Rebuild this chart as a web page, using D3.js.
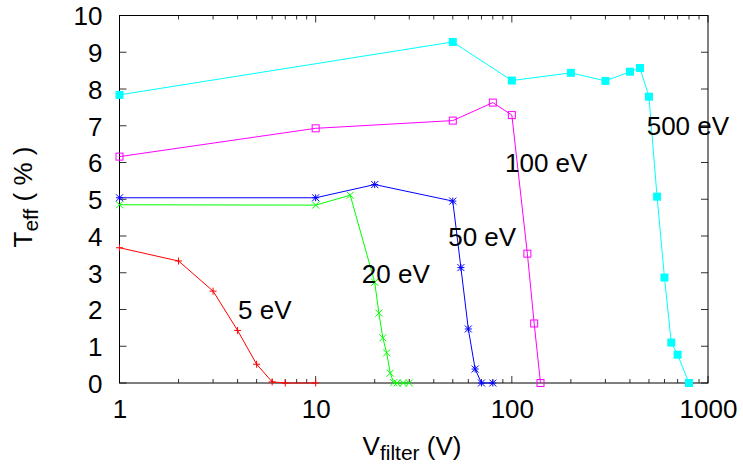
<!DOCTYPE html>
<html><head><meta charset="utf-8">
<script src="https://cdn.jsdelivr.net/npm/d3@7"></script>
<style>body{margin:0;background:#fff}svg{display:block}text{font-family:"Liberation Sans",Arial,Helvetica,sans-serif;fill:#000}</style>
</head><body><svg id="c" width="743" height="465"></svg>
<script>
// ---- data ----
const s5V   = [1,2,3,4,5,6,7,10];
const s5T   = [3.68,3.32,2.50,1.43,0.51,0.03,0.0,0.0];
const s20V  = [1,10,15,20,21,22,23,24,25,26,28,30];
const s20T  = [4.85,4.84,5.11,2.74,1.90,1.23,0.82,0.27,0.01,0,0,0];
const s50V  = [1,10,20,50,55,60,65,70,80];
const s50T  = [5.04,5.04,5.40,4.95,3.14,1.47,0.38,0,0];
const s100V = [1,10,50,80,100,120,130,140];
const s100T = [6.16,6.93,7.14,7.63,7.29,3.52,1.62,0];
const s500V = [1,50,100,200,300,400,450,500,550,600,650,700,800];
const s500T = [7.84,9.28,8.23,8.44,8.22,8.47,8.57,7.79,5.07,2.87,1.10,0.77,0];
const seriesNames = ["5 eV","20 eV","50 eV","100 eV","500 eV"];
const labelV = [4.02,17.2,47.4,92.3,487];
const labelT = [1.73,2.73,3.74,5.75,6.75];
const xTickValues = [1,10,100,1000];
const yTickValues = [0,1,2,3,4,5,6,7,8,9,10];

const colors = ["#ff0000","#00ff00","#0000ff","#ff00ff","#00ffff"];
const markers = ["plus","cross","star","square","fsquare"];
const series = [[s5V,s5T],[s20V,s20T],[s50V,s50T],[s100V,s100T],[s500V,s500T]];

const svg = d3.select("#c");
const L=119.5, R=708, T=15.5, B=383;
const x = d3.scaleLog().domain([1,1000]).range([L,R]);
const y = d3.scaleLinear().domain([0,10]).range([B,T]);
const FS = 26;

// minor ticks
const minor=[];
for (let d=1; d<1000; d*=10) for (let k=2;k<=9;k++) minor.push(d*k);
const tk = svg.append("g").attr("stroke","#333").attr("stroke-width",1);
minor.forEach(v=>{
  tk.append("line").attr("x1",x(v)).attr("x2",x(v)).attr("y1",B).attr("y2",B-4);
  tk.append("line").attr("x1",x(v)).attr("x2",x(v)).attr("y1",T).attr("y2",T+4);
});
xTickValues.forEach(v=>{
  tk.append("line").attr("x1",x(v)).attr("x2",x(v)).attr("y1",B).attr("y2",B-7);
  tk.append("line").attr("x1",x(v)).attr("x2",x(v)).attr("y1",T).attr("y2",T+7);
});
yTickValues.forEach(v=>{
  tk.append("line").attr("x1",L).attr("x2",L+7).attr("y1",y(v)).attr("y2",y(v));
  tk.append("line").attr("x1",R).attr("x2",R-7).attr("y1",y(v)).attr("y2",y(v));
});

// tick labels via d3 axis formatting
const xAxis = d3.axisBottom(x).tickValues(xTickValues).tickFormat(d3.format("d")).tickSize(0);
const gx = svg.append("g").attr("transform",`translate(0,${B})`).call(xAxis);
gx.select(".domain").remove();
gx.selectAll("text").attr("font-size",FS).attr("dy",null).attr("y",35).attr("fill","#000")
  .attr("font-family",'"Liberation Sans",Arial,sans-serif');
const yAxis = d3.axisLeft(y).tickValues(yTickValues).tickFormat(d3.format("d")).tickSize(0);
const gy = svg.append("g").attr("transform",`translate(${L},0)`).call(yAxis);
gy.select(".domain").remove();
gy.selectAll("text").attr("font-size",FS).attr("x",-17).attr("dy","0.36em").attr("fill","#000")
  .attr("font-family",'"Liberation Sans",Arial,sans-serif');

// border
svg.append("rect").attr("x",L).attr("y",T).attr("width",R-L).attr("height",B-T)
  .attr("fill","none").attr("stroke","#000").attr("stroke-width",1);

// series
const line = d3.line().x(d=>x(d[0])).y(d=>y(d[1]));
function marker(g, kind, cx, cy, c){
  const s=3.5;
  if(kind==="plus"||kind==="star"){
    g.append("path").attr("d",`M${cx-s},${cy}H${cx+s}M${cx},${cy-s}V${cy+s}`).attr("stroke",c).attr("fill","none");
  }
  if(kind==="cross"||kind==="star"){
    g.append("path").attr("d",`M${cx-s},${cy-s}L${cx+s},${cy+s}M${cx-s},${cy+s}L${cx+s},${cy-s}`).attr("stroke",c).attr("fill","none");
  }
  if(kind==="square"){
    g.append("rect").attr("x",cx-3.5).attr("y",cy-3.5).attr("width",7).attr("height",7).attr("fill","none").attr("stroke",c);
  }
  if(kind==="fsquare"){
    g.append("rect").attr("x",cx-4).attr("y",cy-4).attr("width",8).attr("height",8).attr("fill",c);
  }
}
series.forEach((s,i)=>{
  const pts = s[0].map((v,j)=>[v,s[1][j]]);
  const g = svg.append("g");
  g.append("path").datum(pts).attr("d",line).attr("fill","none").attr("stroke",colors[i]).attr("stroke-width",1);
  pts.forEach(p=>marker(g,markers[i],x(p[0]),y(p[1]),colors[i]));
});

// series labels
seriesNames.forEach((n,i)=>{
  svg.append("text").attr("x",x(labelV[i])).attr("y",y(labelT[i])).attr("font-size",FS).text(n);
});

// axis titles
const xt = svg.append("text").attr("x",412).attr("y",455).attr("text-anchor","middle").attr("font-size",FS);
xt.append("tspan").text("V");
xt.append("tspan").attr("font-size",21).attr("dy",5).text("filter");
xt.append("tspan").attr("dy",-5).text(" (V)");
const yt = svg.append("text").attr("transform","translate(32,197) rotate(-90)").attr("text-anchor","middle").attr("font-size",FS);
yt.append("tspan").text("T");
yt.append("tspan").attr("font-size",21).attr("dy",6).text("eff");
yt.append("tspan").attr("dy",-6).text(" ( % )");
</script></body></html>
